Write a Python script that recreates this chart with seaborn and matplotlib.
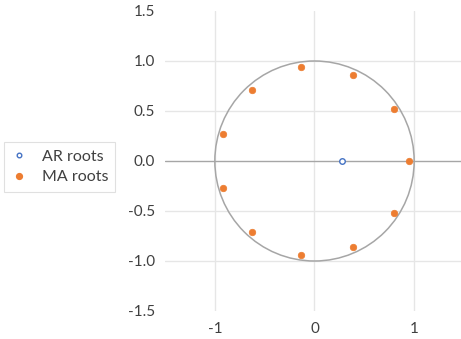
import matplotlib
matplotlib.use("Agg")
import matplotlib.pyplot as plt
from matplotlib.patches import Circle
from matplotlib.lines import Line2D
import seaborn as sns
import pandas as pd

# Data
ar_re = [0.28]
ar_im = [0.0]
ma_re = [0.95, 0.80, 0.80, 0.39, 0.39, -0.14, -0.14, -0.63, -0.63, -0.92, -0.92]
ma_im = [0.0, 0.52, -0.52, 0.86, -0.86, 0.94, -0.94, 0.71, -0.71, 0.27, -0.27]
y_ticks = [-1.5, -1.0, -0.5, 0.0, 0.5, 1.0, 1.5]
x_ticks = [-1, 0, 1]
series_names = ["AR roots", "MA roots"]

sns.set_style("white")
plt.rcParams['font.family'] = ['Lato', 'DejaVu Sans']

W, H = 461, 339
fig = plt.figure(figsize=(W / 100, H / 100), dpi=100)
ax = fig.add_axes([165 / W, (H - 311) / H, (461 - 165) / W, 300 / H])

ax.set_xlim(-1.5, 1.47)
ax.set_ylim(-1.5, 1.5)

# Gridlines
for yv in [-1.0, -0.5, 0.5, 1.0]:
    ax.axhline(yv, color='#e6e6e6', lw=1, zorder=0)
for xv in x_ticks:
    ax.axvline(xv, color='#e6e6e6', lw=1, zorder=0)
ax.axhline(0, color='#a6a6a6', lw=1, zorder=1)

# Unit circle
ax.add_patch(Circle((0, 0), 1.0, fill=False, edgecolor='#a6a6a6', lw=1.1, zorder=2))

df_ar = pd.DataFrame({"re": ar_re, "im": ar_im})
df_ma = pd.DataFrame({"re": ma_re, "im": ma_im})
sns.scatterplot(data=df_ar, x="re", y="im", ax=ax, marker='o', s=16,
                facecolor='white', edgecolor='#4472C4', linewidth=1.0, zorder=3)
sns.scatterplot(data=df_ma, x="re", y="im", ax=ax, marker='o', s=22,
                color='#ED7D31', edgecolor='#ED7D31', linewidth=0.5, zorder=3)

ax.set_xlabel("")
ax.set_ylabel("")
ax.set_xticks(x_ticks)
ax.set_xticklabels([str(v) for v in x_ticks])
ax.set_yticks(y_ticks)
ax.set_yticklabels([f"{v:.1f}" for v in y_ticks])
ax.tick_params(axis='both', length=0, labelsize=11, labelcolor='#404040')
ax.tick_params(axis='y', pad=7)
ax.tick_params(axis='x', pad=8)
for s in ax.spines.values():
    s.set_visible(False)

handles = [
    Line2D([], [], marker='o', ls='', markersize=3.3, markerfacecolor='white',
           markeredgecolor='#4472C4', markeredgewidth=1.0),
    Line2D([], [], marker='o', ls='', markersize=4.2, markerfacecolor='#ED7D31',
           markeredgecolor='#ED7D31'),
]
leg = fig.legend(handles, series_names, loc='center left',
                 bbox_to_anchor=(4 / W, 1 - 167 / H), frameon=True,
                 fontsize=11.5, handlelength=1.0, handletextpad=0.9,
                 borderpad=0.45, labelspacing=0.4, fancybox=False,
                 borderaxespad=0)
leg.get_frame().set_edgecolor('#d9d9d9')
leg.get_frame().set_linewidth(0.8)
for t in leg.get_texts():
    t.set_color('#404040')

fig.savefig("out.png", dpi=100)
